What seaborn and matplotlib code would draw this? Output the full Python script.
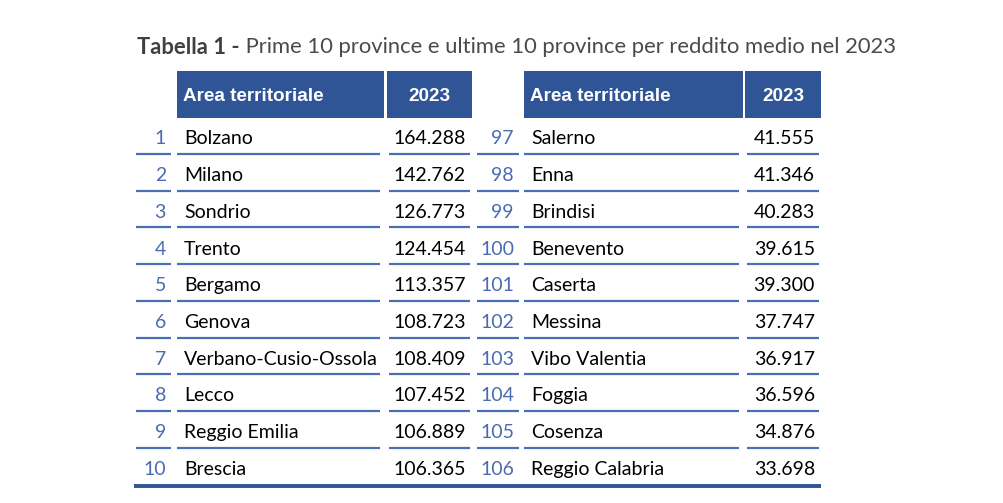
import matplotlib
matplotlib.use("Agg")
import matplotlib.pyplot as plt
import seaborn as sns

# data
top_rank = [1, 2, 3, 4, 5, 6, 7, 8, 9, 10]
top_names = ["Bolzano", "Milano", "Sondrio", "Trento", "Bergamo", "Genova",
             "Verbano-Cusio-Ossola", "Lecco", "Reggio Emilia", "Brescia"]
top_values = [164288, 142762, 126773, 124454, 113357, 108723, 108409, 107452, 106889, 106365]

low_rank = [97, 98, 99, 100, 101, 102, 103, 104, 105, 106]
low_names = ["Salerno", "Enna", "Brindisi", "Benevento", "Caserta", "Messina",
             "Vibo Valentia", "Foggia", "Cosenza", "Reggio Calabria"]
low_values = [41555, 41346, 40283, 39615, 39300, 37747, 36917, 36596, 34876, 33698]

header_name = "Area territoriale"
header_year = "2023"
title_bold = "Tabella 1 -"
title_rest = " Prime 10 province e ultime 10 province per reddito medio nel 2023"

sns.set_style("white")
plt.rcParams["font.family"] = ["Lato", "DejaVu Sans"]

HEAD_BLUE = "#2F5597"
LINE_BLUE = "#4A6FB5"
RANK_BLUE = "#4A6BB0"

def fmt(v):
    return f"{v:,}".replace(",", ".")

fig = plt.figure(figsize=(10.04, 5.03), dpi=100)
ax = fig.add_axes([0, 0, 1, 1])
ax.set_xlim(0, 1004)
ax.set_ylim(503, 0)
ax.axis("off")

# title: bold part then regular part right after it
t1 = ax.text(137, 47, title_bold, fontsize=15.8, fontweight="bold", color="#404040",
             va="center", ha="left")
fig.canvas.draw()
x_end = t1.get_window_extent().x1
ax.annotate(title_rest, xy=(x_end, 503 - 47), xycoords="figure pixels",
            fontsize=15.8, color="#4a4a4a", va="center", ha="left")

# column layout (rank, name, value) for each block
blocks = [
    dict(rank=(136, 171), name=(177, 384), value=(387, 472), ranks=top_rank,
         names=top_names, values=top_values),
    dict(rank=(477, 519), name=(524, 743), value=(745, 821), ranks=low_rank,
         names=low_names, values=low_values),
]

head_top, head_bot = 71, 118
row0 = 137
row_h = 36.7
body_fs = 14

for b in blocks:
    # header boxes
    for (x0, x1) in [b["name"], b["value"]]:
        ax.add_patch(plt.Rectangle((x0, head_top), x1 - x0, head_bot - head_top,
                                   facecolor=HEAD_BLUE, edgecolor="none"))
    ax.text(b["name"][0] + 6, (head_top + head_bot) / 2 + 2, header_name,
            fontsize=13.6, fontweight="bold", color="white", va="center", ha="left",
            family=["Liberation Sans", "DejaVu Sans"])
    ax.text((b["value"][0] + b["value"][1]) / 2, (head_top + head_bot) / 2 + 2, header_year,
            fontsize=13.6, fontweight="bold", color="white", va="center", ha="center",
            family=["Liberation Sans", "DejaVu Sans"])

    for i, (r, n, v) in enumerate(zip(b["ranks"], b["names"], b["values"])):
        y = row0 + i * row_h
        ty = y + 2
        ax.text(b["rank"][1] - 5, ty, str(r), fontsize=body_fs, color=RANK_BLUE,
                va="center", ha="right")
        ax.text(b["name"][0] + 7, ty, n, fontsize=body_fs, color="black",
                va="center", ha="left")
        ax.text(b["value"][1] - 6, ty, fmt(v), fontsize=body_fs, color="black",
                va="center", ha="right")
        if i < len(b["ranks"]) - 1:
            ly = y + 17
            ax.plot(b["rank"], [ly, ly], color=LINE_BLUE, lw=1.6, solid_capstyle="butt")
            ax.plot([b["name"][0], b["name"][1] - 4], [ly, ly], color=LINE_BLUE, lw=1.6,
                    solid_capstyle="butt")
            ax.plot([b["value"][0] + 2, b["value"][1] - 2], [ly, ly], color=LINE_BLUE,
                    lw=1.6, solid_capstyle="butt")

# bottom thick rule
ax.plot([134, 821], [486, 486], color=HEAD_BLUE, lw=2.8, solid_capstyle="butt")

fig.savefig("out.png", dpi=100)
